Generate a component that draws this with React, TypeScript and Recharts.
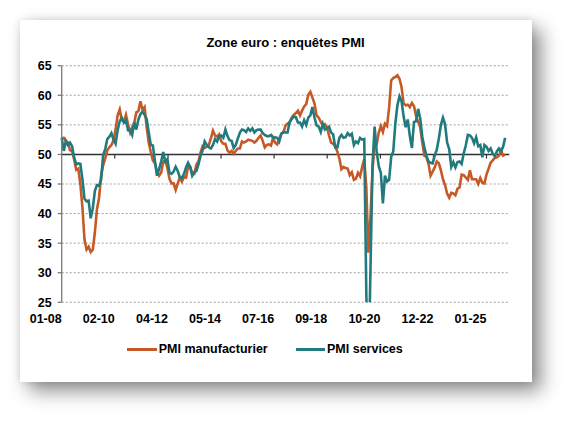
import React from "react";
import {
  LineChart,
  Line,
  XAxis,
  YAxis,
  CartesianGrid,
  ReferenceLine,
} from "recharts";

// monthly readings, first point = 12-07, last = 10-25
const manufacturing = [
  52.7,
  52.8, 52.3, 52.0, 50.7, 50.6, 49.2, 47.4, 47.6, 45.0, 41.1, 35.6, 33.9,
  34.4, 33.5, 33.9, 36.8, 40.7, 42.6, 46.3, 48.2, 49.3, 50.7, 51.2, 51.6,
  52.4, 54.2, 56.6, 57.6, 55.8, 55.6, 56.7, 55.1, 53.7, 54.6, 55.3, 57.1,
  57.3, 59.0, 57.5, 58.0, 54.6, 52.0, 50.4, 49.0, 48.5, 47.1, 46.4, 46.9,
  48.8, 49.0, 47.7, 45.9, 45.1, 45.1, 44.0, 45.1, 46.1, 45.4, 46.2, 46.1,
  47.9, 47.9, 46.8, 46.7, 48.3, 48.8, 50.3, 51.4, 51.1, 51.3, 51.6, 52.7,
  54.0, 53.2, 53.0, 53.4, 52.2, 51.8, 51.8, 50.7, 50.3, 50.6, 50.1, 50.6,
  51.0, 51.0, 52.2, 52.0, 52.2, 52.5, 52.4, 52.3, 52.0, 52.3, 52.8, 53.2,
  52.3, 51.2, 51.6, 51.7, 51.5, 52.8, 52.0, 51.7, 52.6, 53.5, 53.7, 54.9,
  55.2, 55.4, 56.2, 56.7, 57.0, 57.4, 56.6, 57.4, 58.1, 58.5, 60.1, 60.6,
  59.6, 58.6, 56.6, 56.2, 55.5, 54.9, 55.1, 54.6, 53.2, 52.0, 51.8, 51.4,
  50.5, 49.3, 47.5, 47.9, 47.7, 47.6, 46.5, 47.0, 45.7, 45.9, 46.9, 46.3,
  47.9, 49.2, 44.5, 33.4, 39.4, 47.4, 51.8, 51.7, 53.7, 54.8, 53.8, 55.2,
  54.8, 57.9, 62.5, 62.9, 63.1, 63.4, 62.8, 61.4, 58.6, 58.3, 58.4, 58.0,
  58.7, 58.2, 56.5, 55.5, 54.6, 52.1, 49.8, 49.6, 48.4, 46.4, 47.1, 47.8,
  48.8, 48.5, 47.3, 45.8, 44.8, 43.4, 42.7, 43.5, 43.4, 43.1, 44.2, 44.4,
  46.6, 46.5, 46.1, 45.7, 47.3, 45.8, 45.8, 45.8, 45.0, 46.0, 45.2, 45.1,
  46.6, 47.6, 48.6, 49.0, 49.4, 49.5, 49.8, 50.7, 49.8, 50.0,
];

const services = [
  52.8,
  50.6, 52.3, 51.6, 52.0, 51.4, 49.5, 48.3, 48.5, 48.4, 45.8, 42.5, 42.1,
  42.2, 39.2, 40.9, 43.8, 44.8, 44.7, 45.7, 49.9, 50.9, 52.6, 53.0, 53.6,
  52.5, 51.8, 54.1, 55.6, 56.2, 55.4, 55.8, 54.1, 54.1, 53.3, 55.4, 54.2,
  55.9, 56.8, 57.2, 56.7, 56.0, 53.7, 51.6, 51.5, 48.8, 46.4, 47.5, 48.8,
  50.4, 48.8, 49.2, 46.9, 46.7, 47.1, 47.9, 47.2, 46.1, 46.0, 46.7, 47.8,
  48.6, 47.9, 46.4, 47.0, 47.2, 48.3, 49.8, 50.7, 52.2, 51.6, 51.2, 51.0,
  51.6, 52.6, 52.2, 53.1, 53.2, 52.8, 54.2, 53.1, 52.4, 52.3, 51.1, 51.6,
  52.7, 53.7, 54.2, 54.1, 53.8, 54.4, 54.0, 54.4, 53.7, 54.1, 54.2, 54.2,
  53.6, 53.3, 53.1, 53.1, 53.3, 52.8, 52.9, 52.8, 52.2, 53.5, 53.8, 53.7,
  53.7, 55.5, 56.0, 56.4, 56.3, 55.4, 55.4, 54.7, 55.8, 55.0, 56.2, 56.6,
  58.0, 56.2, 54.9, 54.7, 53.8, 55.2, 54.2, 54.4, 54.7, 53.7, 53.4, 51.2,
  51.2, 52.8, 53.3, 52.8, 52.9, 53.6, 53.2, 53.5, 51.6, 52.2, 51.9, 52.8,
  52.5, 52.6, 26.4, 12.0, 30.5, 48.3, 54.7, 50.5, 48.0, 46.9, 41.7, 46.4,
  45.4, 45.7, 49.6, 50.5, 55.2, 58.3, 59.8, 59.0, 56.4, 54.6, 55.9, 53.1,
  51.1, 55.5, 55.6, 57.7, 56.1, 53.0, 51.2, 49.8, 48.8, 48.6, 48.5, 49.8,
  50.8, 52.7, 55.0, 56.2, 55.1, 52.0, 50.9, 47.9, 48.7, 47.8, 48.7, 48.8,
  48.4, 50.2, 51.5, 53.3, 53.2, 52.8, 51.9, 52.9, 51.4, 51.6, 49.5, 51.6,
  51.3, 50.6, 51.0, 50.1, 49.7, 50.5, 51.0, 50.5, 51.3, 52.8,
];

const xTickLabels = ["01-08", "02-10", "04-12", "05-14", "07-16", "09-18", "10-20", "12-22", "01-25"];
const xTickPositions = [0, 25.6, 51.3, 76.9, 102.5, 128.1, 153.8, 179.4, 205];
const yTicks = [25, 30, 35, 40, 45, 50, 55, 60, 65];

const ORANGE = "#C65A26";
const TEAL = "#217A7D";
const FONT = "'Liberation Sans', Arial, sans-serif";

const data = manufacturing.map((v, i) => ({ m: i, mfg: v, svc: services[i] }));

const XTick = (props: any) => {
  const { x, y, index } = props;
  return (
    <text x={x} y={y + 21} textAnchor="end" fontFamily={FONT} fontSize={12.5} fontWeight="bold" fill="#000">
      {xTickLabels[index]}
    </text>
  );
};

export default function App() {
  return (
    <div style={{ position: "absolute", left: 0, top: 0, width: 573, height: 423, background: "#fff" }}>
      <div
        style={{
          position: "absolute",
          left: 20,
          top: 20,
          width: 512,
          height: 362,
          background: "#fff",
          boxShadow: "9px 9px 18px rgba(0,0,0,0.45), 0 0 8px rgba(0,0,0,0.12)",
          fontFamily: FONT,
        }}
      >
        <div
          style={{
            position: "absolute",
            left: 0,
            top: 14,
            width: 531,
            textAlign: "center",
            fontSize: 13,
            fontWeight: "bold",
            lineHeight: "17px",
            color: "#000",
          }}
        >
          Zone euro : enquêtes PMI
        </div>
        <LineChart
          width={512}
          height={362}
          data={data}
          margin={{ top: 45.7, right: 22.7, left: 0, bottom: 49.7 }}
        >
          <CartesianGrid vertical={false} stroke="#a0a0a0" strokeDasharray="2 2" />
          <XAxis
            dataKey="m"
            type="number"
            domain={[0, 216]}
            ticks={xTickPositions}
            height={30}
            axisLine={false}
            tickLine={false}
            tickSize={0}
            tickMargin={0}
            interval={0}
            tick={<XTick />}
          />
          <YAxis
            type="number"
            domain={[25, 65]}
            ticks={yTicks}
            allowDataOverflow
            width={41.7}
            interval={0}
            axisLine={{ stroke: "#7a7a7a", strokeWidth: 1.3 }}
            tickLine={{ stroke: "#7a7a7a", strokeWidth: 1.3 }}
            tickSize={4}
            tickMargin={6}
            tick={{ fontFamily: FONT, fontSize: 12.5, fontWeight: "bold", fill: "#000" }}
          />
          <ReferenceLine y={50} stroke="#333" strokeWidth={1.4} />
          {xTickPositions.slice(1).map((t) => (
            <ReferenceLine
              key={t}
              segment={[{ x: t, y: 50 }, { x: t, y: 49.3 }]}
              stroke="#333"
              strokeWidth={1.2}
            />
          ))}
          <Line
            type="linear"
            dataKey="mfg"
            stroke={ORANGE}
            strokeWidth={2.6}
            dot={false}
            isAnimationActive={false}
          />
          <Line
            type="linear"
            dataKey="svc"
            stroke={TEAL}
            strokeWidth={2.6}
            dot={false}
            isAnimationActive={false}
          />
        </LineChart>
        <div style={{ position: "absolute", left: 106.7, top: 321, height: 16, display: "flex", alignItems: "center" }}>
          <div style={{ width: 30, height: 3, background: ORANGE }} />
          <span style={{ marginLeft: 2, fontSize: 12.5, fontWeight: "bold", color: "#000" }}>PMI manufacturier</span>
        </div>
        <div style={{ position: "absolute", left: 276, top: 321, height: 16, display: "flex", alignItems: "center" }}>
          <div style={{ width: 29, height: 3, background: TEAL }} />
          <span style={{ marginLeft: 2, fontSize: 12.5, fontWeight: "bold", color: "#000" }}>PMI services</span>
        </div>
      </div>
    </div>
  );
}
